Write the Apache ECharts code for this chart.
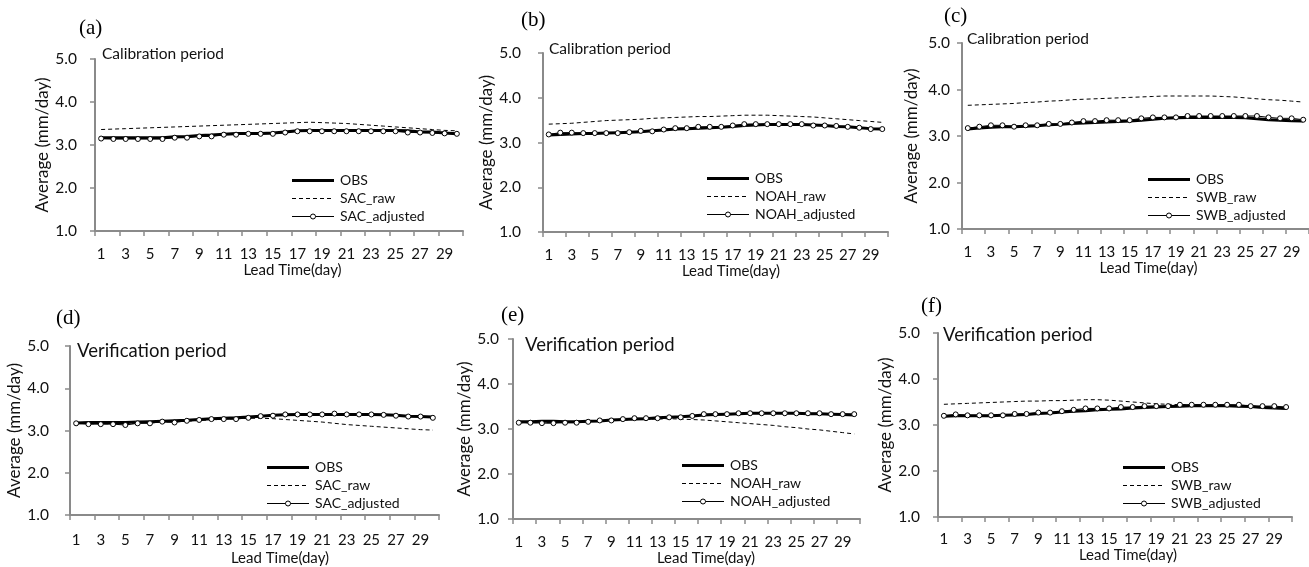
<!DOCTYPE html>
<html>
<head>
<meta charset="utf-8">
<script src="https://cdn.jsdelivr.net/npm/echarts@6/dist/echarts.min.js"></script>
<style>
html,body{margin:0;padding:0;background:#fff;}
#chart{width:1309px;height:567px;}
</style>
</head>
<body>
<div id="chart"></div>
<script>
// ---- data ----
const leadDays = ['1','2','3','4','5','6','7','8','9','10','11','12','13','14','15','16','17','18','19','20','21','22','23','24','25','26','27','28','29','30'];

// (a) calibration, SAC
const obsA    = [3.17,3.17,3.17,3.17,3.17,3.17,3.19,3.20,3.22,3.23,3.25,3.27,3.27,3.27,3.28,3.30,3.33,3.34,3.34,3.34,3.34,3.34,3.34,3.34,3.34,3.33,3.30,3.30,3.28,3.26];
const sacRawA = [3.36,3.37,3.38,3.39,3.40,3.41,3.42,3.43,3.44,3.45,3.46,3.47,3.48,3.49,3.50,3.51,3.52,3.53,3.52,3.51,3.50,3.48,3.46,3.44,3.42,3.40,3.38,3.36,3.34,3.33];
const sacAdjA = [3.15,3.14,3.14,3.14,3.14,3.14,3.17,3.17,3.20,3.20,3.24,3.24,3.26,3.26,3.26,3.29,3.32,3.32,3.32,3.32,3.32,3.32,3.32,3.32,3.32,3.29,3.29,3.28,3.27,3.26];

// (b) calibration, NOAH
const obsB     = [3.17,3.18,3.19,3.20,3.20,3.21,3.22,3.23,3.24,3.26,3.28,3.30,3.31,3.32,3.33,3.34,3.36,3.38,3.39,3.40,3.40,3.40,3.40,3.39,3.38,3.36,3.35,3.33,3.31,3.30];
const noahRawB = [3.41,3.42,3.43,3.45,3.47,3.49,3.50,3.51,3.52,3.54,3.55,3.56,3.57,3.58,3.58,3.59,3.60,3.61,3.61,3.61,3.60,3.59,3.58,3.57,3.55,3.53,3.51,3.49,3.47,3.45];
const noahAdjB = [3.18,3.22,3.22,3.21,3.21,3.21,3.21,3.23,3.26,3.25,3.29,3.32,3.32,3.35,3.35,3.35,3.38,3.41,3.41,3.41,3.41,3.41,3.41,3.38,3.38,3.37,3.35,3.33,3.30,3.30];

// (c) calibration, SWB
const obsC    = [3.15,3.17,3.19,3.20,3.20,3.21,3.22,3.24,3.25,3.27,3.28,3.29,3.30,3.31,3.32,3.34,3.36,3.38,3.39,3.40,3.40,3.40,3.40,3.40,3.39,3.37,3.35,3.34,3.33,3.32];
const swbRawC = [3.66,3.67,3.68,3.69,3.70,3.72,3.73,3.75,3.76,3.78,3.79,3.80,3.81,3.82,3.83,3.84,3.85,3.86,3.86,3.86,3.86,3.86,3.85,3.84,3.82,3.80,3.78,3.77,3.75,3.73];
const swbAdjC = [3.17,3.20,3.23,3.23,3.20,3.23,3.23,3.26,3.26,3.29,3.32,3.32,3.34,3.34,3.34,3.38,3.40,3.40,3.40,3.43,3.43,3.43,3.43,3.43,3.43,3.43,3.40,3.38,3.38,3.35];

// (d) verification, SAC
const obsD    = [3.18,3.19,3.19,3.19,3.19,3.20,3.21,3.22,3.23,3.24,3.26,3.28,3.29,3.30,3.32,3.34,3.36,3.37,3.38,3.38,3.38,3.38,3.38,3.38,3.38,3.37,3.36,3.34,3.33,3.32];
const sacRawD = [3.17,3.16,3.16,3.16,3.16,3.18,3.19,3.20,3.21,3.22,3.24,3.25,3.27,3.28,3.29,3.29,3.28,3.26,3.24,3.22,3.20,3.17,3.14,3.12,3.10,3.08,3.06,3.04,3.02,3.01];
const sacAdjD = [3.17,3.15,3.15,3.15,3.13,3.17,3.17,3.21,3.19,3.23,3.25,3.27,3.27,3.27,3.30,3.34,3.35,3.38,3.38,3.38,3.38,3.40,3.38,3.38,3.38,3.37,3.35,3.33,3.33,3.30];

// (e) verification, NOAH
const obsE     = [3.16,3.16,3.17,3.17,3.16,3.16,3.17,3.18,3.20,3.21,3.22,3.23,3.25,3.26,3.27,3.29,3.31,3.32,3.33,3.34,3.35,3.35,3.35,3.35,3.35,3.34,3.34,3.33,3.32,3.31];
const noahRawE = [3.14,3.14,3.14,3.14,3.15,3.16,3.17,3.18,3.19,3.20,3.21,3.22,3.22,3.23,3.22,3.21,3.20,3.18,3.16,3.14,3.12,3.10,3.08,3.05,3.03,3.00,2.98,2.95,2.92,2.89];
const noahAdjE = [3.14,3.14,3.13,3.13,3.14,3.14,3.16,3.19,3.19,3.22,3.24,3.24,3.24,3.26,3.26,3.29,3.33,3.33,3.33,3.35,3.35,3.35,3.35,3.35,3.35,3.35,3.35,3.33,3.33,3.33];

// (f) verification, SWB
const obsF    = [3.19,3.20,3.20,3.20,3.20,3.21,3.22,3.23,3.25,3.26,3.28,3.30,3.31,3.33,3.34,3.35,3.37,3.38,3.39,3.40,3.41,3.42,3.42,3.42,3.42,3.41,3.40,3.38,3.37,3.36];
const swbRawF = [3.45,3.46,3.47,3.48,3.49,3.50,3.51,3.52,3.52,3.53,3.53,3.54,3.55,3.55,3.54,3.52,3.50,3.48,3.46,3.45,3.44,3.44,3.43,3.43,3.42,3.42,3.41,3.40,3.39,3.38];
const swbAdjF = [3.20,3.23,3.21,3.21,3.21,3.21,3.24,3.24,3.27,3.27,3.30,3.33,3.36,3.36,3.36,3.39,3.39,3.41,3.41,3.41,3.44,3.44,3.44,3.44,3.44,3.44,3.41,3.41,3.41,3.39];

const yAxisName = 'Average (mm/day)';
const xAxisName = 'Lead Time(day)';

// ---- layout (positions & styles) ----
const FONT = 'Lato';
const panels = [
  {tag:'(a)', period:'Calibration period', model:'SAC', obs:obsA, raw:sacRawA, adj:sacAdjA,
   grid:{left:95,top:59,width:368,height:172}, ylm:18, yng:43, xlm:16, xng:31, xshift:27,
   tagPos:[79,18], perPos:[102,46], perSize:15.5, leg:[292,180]},
  {tag:'(b)', period:'Calibration period', model:'NOAH', obs:obsB, raw:noahRawB, adj:noahAdjB,
   grid:{left:543,top:53,width:345,height:179}, ylm:22, yng:41, xlm:16, xng:27, xshift:31,
   tagPos:[521,10], perPos:[549,41], perSize:15.5, leg:[707,178]},
  {tag:'(c)', period:'Calibration period', model:'SWB', obs:obsC, raw:swbRawC, adj:swbAdjC,
   grid:{left:962,top:43,width:354,height:186}, ylm:12, yng:42, xlm:16, xng:30, xshift:26,
   tagPos:[944,6], perPos:[967,31], perSize:15.5, leg:[1148,179]},
  {tag:'(d)', period:'Verification period', model:'SAC', obs:obsD, raw:sacRawD, adj:sacAdjD,
   grid:{left:70,top:346,width:369,height:172}, ylm:21, yng:42, xlm:18, xng:36, xshift:51,
   tagPos:[56,308], perPos:[77,342], perSize:18.5, leg:[267,467]},
  {tag:'(e)', period:'Verification period', model:'NOAH', obs:obsE, raw:noahRawE, adj:noahAdjE,
   grid:{left:513,top:339,width:347,height:180}, ylm:14, yng:36, xlm:16, xng:28, xshift:39,
   tagPos:[501,305], perPos:[525,336], perSize:18.5, leg:[682,465]},
  {tag:'(f)', period:'Verification period', model:'SWB', obs:obsF, raw:swbRawF, adj:swbAdjF,
   grid:{left:938,top:333,width:354,height:184}, ylm:18, yng:43, xlm:15, xng:30, xshift:26,
   tagPos:[921,296], perPos:[943,326], perSize:18.5, leg:[1123,467]}
];

const AXIS_COLOR = '#8a8a8a';
const TXT = '#111';
const STYLES = {
  obs:{width:3, dash:null, marker:false},
  raw:{width:1, dash:[4,3], marker:false},
  adj:{width:1, dash:null, marker:true}
};

const option = {
  animation:false,
  backgroundColor:'#fff',
  grid:[], xAxis:[], yAxis:[], series:[], graphic:[]
};

panels.forEach((p, i) => {
  option.grid.push(Object.assign({containLabel:false}, p.grid));
  option.xAxis.push({
    type:'category', gridIndex:i, data:leadDays, boundaryGap:true,
    name:xAxisName, nameLocation:'middle', nameGap:p.xng,
    nameTextStyle:{fontFamily:FONT, fontSize:15, color:TXT, padding:[0,0,0,p.xshift]},
    axisLine:{show:true, lineStyle:{color:AXIS_COLOR, width:2}},
    axisTick:{show:true, interval:1, length:5, lineStyle:{color:AXIS_COLOR, width:1.5}},
    axisLabel:{interval:1, margin:p.xlm, fontFamily:FONT, fontSize:15, color:TXT},
    splitLine:{show:false}
  });
  option.yAxis.push({
    type:'value', gridIndex:i, min:1, max:5, interval:1,
    name:yAxisName, nameLocation:'middle', nameGap:p.yng, nameRotate:90,
    nameTextStyle:{fontFamily:FONT, fontSize:17, color:TXT},
    axisLine:{show:true, lineStyle:{color:AXIS_COLOR, width:2}},
    axisTick:{show:true, length:5, lineStyle:{color:AXIS_COLOR, width:1.5}},
    axisLabel:{margin:p.ylm, fontFamily:FONT, fontSize:15.5, color:TXT, formatter:v => v.toFixed(1)},
    splitLine:{show:false}
  });
  const names = {obs:'OBS', raw:p.model + '_raw', adj:p.model + '_adjusted'};
  option.series.push({
    name:names.obs, type:'line', xAxisIndex:i, yAxisIndex:i, data:p.obs,
    symbol:'none', lineStyle:{color:'#000', width:STYLES.obs.width}, z:2
  });
  option.series.push({
    name:names.raw, type:'line', xAxisIndex:i, yAxisIndex:i, data:p.raw,
    symbol:'none', lineStyle:{color:'#000', width:STYLES.raw.width, type:STYLES.raw.dash}, z:3
  });
  option.series.push({
    name:names.adj, type:'line', xAxisIndex:i, yAxisIndex:i, data:p.adj,
    symbol:'circle', symbolSize:5, showAllSymbol:true,
    lineStyle:{color:'#000', width:STYLES.adj.width},
    itemStyle:{color:'#fff', borderColor:'#000', borderWidth:1}, z:4
  });
  // legend (key) drawn as graphic elements, one row per series
  ['obs','raw','adj'].forEach((k, r) => {
    const x0 = p.leg[0], y = p.leg[1] + r * 18, st = STYLES[k];
    option.graphic.push({
      type:'line', shape:{x1:x0, y1:y + 0.5, x2:x0 + 42, y2:y + 0.5},
      style:{stroke:'#000', lineWidth:st.width, lineDash:st.dash}
    });
    if (st.marker) {
      option.graphic.push({
        type:'circle', shape:{cx:x0 + 21, cy:y + 0.5, r:2.5},
        style:{fill:'#fff', stroke:'#000', lineWidth:1}
      });
    }
    option.graphic.push({
      type:'text', x:x0 + 48, y:y,
      style:{text:names[k], font:'14px ' + FONT, fill:TXT, verticalAlign:'middle'}
    });
  });
  option.graphic.push({
    type:'text', left:p.tagPos[0], top:p.tagPos[1],
    style:{text:p.tag, font:'21px "Liberation Serif"', fill:'#000'}
  });
  option.graphic.push({
    type:'text', left:p.perPos[0], top:p.perPos[1],
    style:{text:p.period, font:p.perSize + 'px ' + FONT, fill:TXT}
  });
});

const chart = echarts.init(document.getElementById('chart'), null, {renderer:'canvas'});
chart.setOption(option);
</script>
</body>
</html>
